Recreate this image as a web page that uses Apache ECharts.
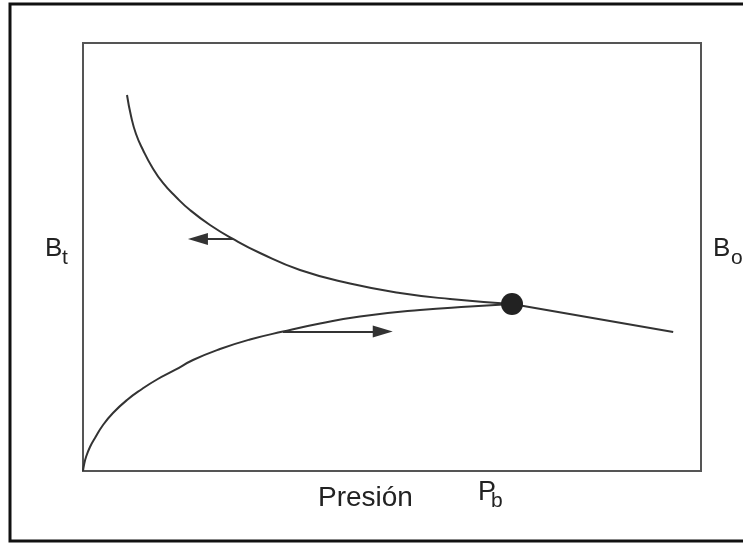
<!DOCTYPE html>
<html>
<head>
<meta charset="utf-8">
<style>
  html, body { margin: 0; padding: 0; background: #fff; }
  #chart { width: 743px; height: 544px; }
</style>
<script src="https://cdn.jsdelivr.net/npm/echarts@6/dist/echarts.min.js"></script>
</head>
<body>
<div id="chart"></div>
<script>
// Bt (two-phase formation volume factor) below the bubble point
const btCurve = [[7.12, 87.85], [7.77, 82.94], [8.58, 78.74], [9.71, 75.00], [11.17, 71.03],
  [12.94, 67.29], [15.05, 64.02], [17.31, 60.98], [20.55, 57.48], [24.27, 54.21],
  [28.64, 50.93], [35.11, 46.96], [43.20, 43.81], [51.29, 41.59], [59.39, 40.19], [69.42, 39.02]];
// Bo (oil formation volume factor) below the bubble point
const boCurve = [[0, 0], [0.16, 1.40], [0.49, 3.27], [1.13, 5.61], [1.94, 7.71], [3.24, 10.75],
  [4.85, 13.55], [7.12, 16.59], [9.55, 19.16], [11.97, 21.38], [14.89, 23.60], [17.80, 25.93],
  [22.17, 28.50], [27.02, 30.72], [32.36, 32.59], [38.35, 34.46], [44.82, 36.10],
  [54.53, 37.62], [62.62, 38.43], [69.42, 39.02]];
// single-phase region above the bubble point (Bt = Bo)
const aboveBubble = [[69.42, 39.02], [95.5, 32.5]];
// bubble point Pb
const bubblePoint = [[69.42, 39.02]];
// direction arrows: [start, head centre]
const arrowLeft = [[24.27, 54.21], [18.6, 54.21]];
const arrowRight = [[32.36, 32.59], [48.5, 32.59]];

const ink = '#333';
const chart = echarts.init(document.getElementById('chart'), null, { renderer: 'canvas' });

const hiddenAxis = {
  type: 'value', min: 0, max: 100,
  axisLine: { show: false }, axisTick: { show: false },
  axisLabel: { show: false }, splitLine: { show: false }
};

function arrowMark(pair) {
  return {
    silent: true,
    symbol: ['none', 'triangle'],
    symbolSize: [12, 20],
    label: { show: false },
    lineStyle: { color: ink, width: 2, type: 'solid' },
    itemStyle: { color: '#222' },
    emphasis: { disabled: true },
    data: [[{ coord: pair[0] }, { coord: pair[1] }]]
  };
}

const txt = (text, x, y, size) => ({
  type: 'text', x: x, y: y, silent: true,
  style: {
    text: text, x: 0, y: 0, fill: '#222',
    font: size + 'px "Liberation Sans", Arial, sans-serif',
    textAlign: 'left', textVerticalAlign: 'middle'
  }
});

const curveStyle = {
  type: 'line', smooth: 0.5, showSymbol: false, silent: true,
  lineStyle: { color: ink, width: 2 }
};

chart.setOption({
  animation: false,
  grid: {
    left: 83, right: 42, top: 43, bottom: 73,
    show: true, borderColor: '#555', borderWidth: 2, backgroundColor: 'transparent'
  },
  xAxis: hiddenAxis,
  yAxis: hiddenAxis,
  series: [
    Object.assign({ name: 'Bt', data: btCurve, markLine: arrowMark(arrowLeft) }, curveStyle),
    Object.assign({ name: 'Bo', data: boCurve, markLine: arrowMark(arrowRight) }, curveStyle),
    {
      name: 'Bo = Bt', type: 'line', data: aboveBubble, showSymbol: false,
      lineStyle: { color: ink, width: 2 }, silent: true
    },
    {
      name: 'Pb', type: 'scatter', data: bubblePoint, symbolSize: 22,
      itemStyle: { color: '#222', opacity: 1 }, silent: true, z: 5
    }
  ],
  graphic: [
    {
      type: 'rect', silent: true,
      shape: { x: 10, y: 4, width: 740, height: 537 },
      style: { fill: 'none', stroke: '#111', lineWidth: 3 }
    },
    txt('B', 45, 249, 26),
    txt('t', 62, 258, 21),
    txt('B', 713, 249, 26),
    txt('o', 731, 258, 21),
    txt('Presión', 318, 498, 28),
    txt('P', 478, 493, 27),
    txt('b', 491, 501, 21)
  ]
});
</script>
</body>
</html>
